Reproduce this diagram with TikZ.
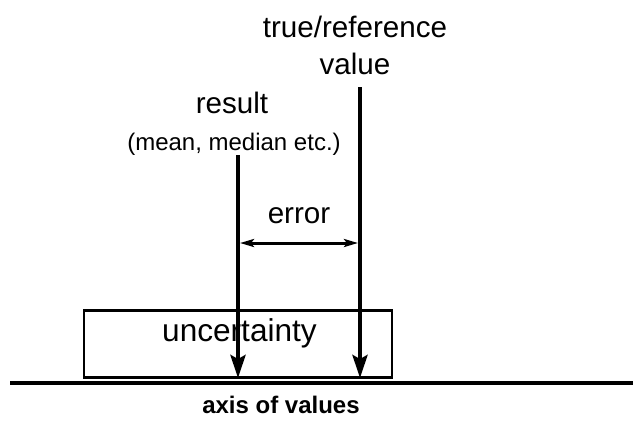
\documentclass[tikz,border=0pt]{standalone}
\usepackage{fontspec}
\setmainfont{Liberation Sans}
\usetikzlibrary{arrows.meta,positioning}

\tikzset{
  bigtext/.style={anchor=base,font=\fontsize{14.8}{17}\selectfont},
  smalltext/.style={anchor=base,font=\fontsize{12}{14}\selectfont},
  valuearrow/.style={line width=2pt,-{Stealth[length=11.5pt,width=7.5pt,inset=2pt]}},
  errarrow/.style={line width=1.5pt,{Stealth[length=7pt,width=4pt,inset=1.5pt]}-{Stealth[length=7pt,width=4pt,inset=1.5pt]}}
}

\begin{document}
\begin{tikzpicture}[x=0.5pt,y=-0.5pt]
    \useasboundingbox (0,0) rectangle (633,420);

    % axis
    \coordinate (axl) at (10,383);
    \coordinate (axr) at (633,383);
    \draw[line width=2pt] (axl) -- (axr);
    \node[smalltext,font=\fontsize{12}{14}\selectfont\bfseries] (axlabel) at (281,413) {axis of values};

    % uncertainty box
    \node[draw,line width=1.3pt,minimum width=154pt,minimum height=33.5pt,inner sep=0pt] (box) at (238,344) {};
    \node[bigtext,font=\fontsize{15.8}{18}\selectfont] (unclabel) at (239.5,341.5) {uncertainty};

    % labels
    \node[bigtext] (truelabel) at (355,37) {true/reference};
    \node[bigtext] (truevalue) at (355,74) {value};
    \node[bigtext] (reslabel) at (232,113) {result};
    \node[smalltext] (resnote) at (234,150) {(mean, median etc.)};

    % value arrows
    \coordinate (restop) at (238,155);
    \coordinate (resfoot) at (238,378);
    \coordinate (reftop) at (360,87);
    \coordinate (reffoot) at (360,378);
    \draw[valuearrow] (restop) -- (resfoot);
    \draw[valuearrow] (reftop) -- (reffoot);

    % error
    \coordinate (errl) at (240,243);
    \coordinate (errr) at (358,243);
    \draw[errarrow] (errl) -- (errr);
    \node[bigtext] (errlabel) at (299,223) {error};
  \end{tikzpicture}
\end{document}
